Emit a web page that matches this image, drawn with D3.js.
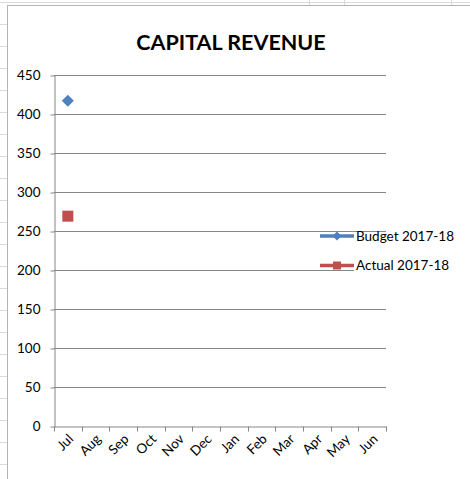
<!DOCTYPE html>
<html>
<head>
<meta charset="utf-8">
<script src="https://cdn.jsdelivr.net/npm/d3@7"></script>
<style>
  body { margin: 0; background: #fff; }
  svg { display: block; font-family: Lato, "Open Sans", sans-serif; }
</style>
</head>
<body>
<div id="chart"></div>
<script>
// data
const months = ["Jul", "Aug", "Sep", "Oct", "Nov", "Dec", "Jan", "Feb", "Mar", "Apr", "May", "Jun"];
const budget = [417, null, null, null, null, null, null, null, null, null, null, null];
const actual = [269, null, null, null, null, null, null, null, null, null, null, null];
const yTicks = [0, 50, 100, 150, 200, 250, 300, 350, 400, 450];
const seriesNames = ["Budget 2017-18", "Actual 2017-18"];

const width = 470, height = 479;
const margin = {top: 75, right: 84, bottom: 53, left: 54};

const svg = d3.select('#chart')
    .append('svg')
    .attr('width', width)
    .attr('height', height);

// spreadsheet behind the chart
const sheet = svg.append('g').attr('stroke', '#d9d9d9').attr('stroke-width', 1);
sheet.append('line').attr('x1', 0).attr('x2', width).attr('y1', 2.5).attr('y2', 2.5);
[309.5, 344.5, 451.5].forEach(function(x) {
    sheet.append('line').attr('x1', x).attr('x2', x).attr('y1', 0).attr('y2', 5);
});
d3.range(24.5, height, 22).forEach(function(y) {
    sheet.append('line').attr('x1', 0).attr('x2', 7).attr('y1', y).attr('y2', y);
});

// chart frame
svg.append('rect')
    .attr('x', 7.5).attr('y', 5.5)
    .attr('width', width).attr('height', height)
    .attr('fill', '#fff')
    .attr('stroke', '#b3b3b3');

svg.append('text')
    .attr('x', 231)
    .attr('y', 50)
    .attr('text-anchor', 'middle')
    .attr('font-size', 21.5)
    .attr('font-weight', 'bold')
    .attr('fill', '#000')
    .text('CAPITAL REVENUE');

const x = d3.scaleBand()
    .domain(months)
    .range([margin.left, width - margin.right]);

const y = d3.scaleLinear()
    .domain([0, 450])
    .range([height - margin.bottom, margin.top]);

const grid = '#868686';

// gridlines
svg.append('g')
    .selectAll('line')
    .data(yTicks.filter(d => d > 0))
    .enter().append('line')
    .attr('x1', margin.left).attr('x2', width - margin.right)
    .attr('y1', d => Math.round(y(d)) + 0.5)
    .attr('y2', d => Math.round(y(d)) + 0.5)
    .attr('stroke', grid);

// y axis
const yAxis = d3.axisLeft(y)
    .tickValues(yTicks)
    .tickSize(4)
    .tickPadding(10)
    .tickSizeOuter(0);

const yAxisG = svg.append('g')
    .attr('transform', `translate(${margin.left + 0.5},0.5)`)
    .call(yAxis);
yAxisG.select('.domain').attr('stroke', grid);
yAxisG.selectAll('.tick line').attr('stroke', grid);
yAxisG.selectAll('.tick text')
    .attr('font-size', 13.5)
    .attr('font-family', 'Lato, sans-serif')
    .attr('fill', '#000');

// x axis: labels at band centres, ticks between the categories
const x0 = height - margin.bottom;
const xAxis = d3.axisBottom(x).tickSize(0).tickSizeOuter(0);
const xAxisG = svg.append('g')
    .attr('transform', `translate(0,${Math.round(x0) + 0.5})`)
    .call(xAxis);
xAxisG.select('.domain').attr('stroke', grid);
xAxisG.selectAll('.tick text')
    .attr('font-size', 13.5)
    .attr('font-family', 'Lato, sans-serif')
    .attr('fill', '#000')
    .attr('text-anchor', 'end')
    .attr('y', 0)
    .attr('dy', '0.35em')
    .attr('transform', 'translate(3,10) rotate(-45)');

const bounds = months.map(d => x(d)).concat([x.range()[1]]);
xAxisG.selectAll('.bound')
    .data(bounds)
    .enter().append('line')
    .attr('class', 'bound')
    .attr('x1', d => Math.round(d) + 0.5).attr('x2', d => Math.round(d) + 0.5)
    .attr('y1', 0).attr('y2', 5)
    .attr('stroke', grid);

const blue = '#4f81bd', red = '#c0504d';
const cx = d => x(d) + x.bandwidth() / 2;

// budget markers (diamonds)
svg.append('g')
    .selectAll('path')
    .data(months.map((m, i) => ({m: m, v: budget[i]})).filter(d => d.v != null))
    .enter().append('path')
    .attr('d', d3.symbol(d3.symbolSquare, 72))
    .attr('transform', d => `translate(${cx(d.m)},${y(d.v)}) rotate(45)`)
    .attr('fill', blue);

// actual markers (squares)
svg.append('g')
    .selectAll('rect')
    .data(months.map((m, i) => ({m: m, v: actual[i]})).filter(d => d.v != null))
    .enter().append('rect')
    .attr('x', d => cx(d.m) - 5.5)
    .attr('y', d => y(d.v) - 5.5)
    .attr('width', 11).attr('height', 11)
    .attr('fill', red);

// legend
svg.append('rect')
    .attr('x', 354).attr('y', 233)
    .attr('width', 110).attr('height', 45)
    .attr('fill', '#fff');

const legend = svg.selectAll('.legend')
    .data(seriesNames)
    .enter().append('g')
    .attr('class', 'legend')
    .attr('transform', (d, i) => `translate(320,${236 + i * 29.5})`);

legend.append('line')
    .attr('x1', 0).attr('x2', 34)
    .attr('stroke', (d, i) => i === 0 ? blue : red)
    .attr('stroke-width', 3.5);

legend.append('path')
    .attr('d', (d, i) => i === 0 ? d3.symbol(d3.symbolSquare, 40)() : d3.symbol(d3.symbolSquare, 64)())
    .attr('transform', (d, i) => i === 0 ? 'translate(17,0) rotate(45)' : 'translate(17,0)')
    .attr('fill', (d, i) => i === 0 ? blue : red);

legend.append('text')
    .attr('x', 36)
    .attr('y', 0)
    .attr('dy', '0.35em')
    .attr('font-size', 13.5)
    .attr('fill', '#000')
    .text(d => d);
</script>
</body>
</html>
